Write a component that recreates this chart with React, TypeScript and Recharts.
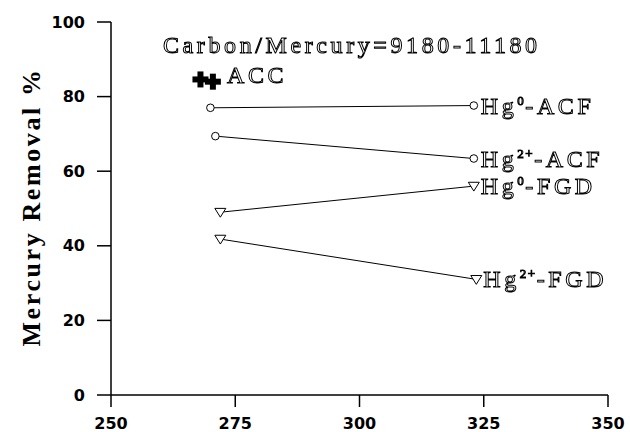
import React from "react";
import { ComposedChart, Line, Scatter, XAxis, YAxis } from "recharts";

const X_TICKS = [250, 275, 300, 325, 350];
const Y_TICKS = [0, 20, 40, 60, 80, 100];

const ACC_X = [268, 270.5];
const ACC_Y = [84.6, 84];

const HG0_ACF_X = [270, 323];
const HG0_ACF_Y = [77, 77.6];
const HG2_ACF_X = [271, 323];
const HG2_ACF_Y = [69.4, 63.4];
const HG0_FGD_X = [272, 323];
const HG0_FGD_Y = [49, 56];
const HG2_FGD_X = [272, 323.5];
const HG2_FGD_Y = [41.8, 31];

const TITLE = "Carbon/Mercury=9180-11180";

const zip = (xs: number[], ys: number[]) => xs.map((x, i) => ({ x, y: ys[i] }));

// hollow engraved-looking lettering; grayscale filter keeps the edges black
const outline = {
  fontFamily: "Liberation Serif",
  fontWeight: 400,
  fontSize: 24,
  letterSpacing: 3.6,
  fill: "#fff",
  stroke: "#000",
  strokeWidth: 1,
  style: { filter: "grayscale(1)" },
};

const tickFont = { fontFamily: "DejaVu Sans", fontWeight: 700, fontSize: 16, fill: "#000" };

function Circle(props: any) {
  const { cx, cy } = props;
  if (cx == null || cy == null) return null;
  return <circle cx={cx} cy={cy} r={3.8} fill="#fff" stroke="#000" strokeWidth={1} />;
}

function Triangle(props: any) {
  const { cx, cy } = props;
  if (cx == null || cy == null) return null;
  const s = 5.5;
  return (
    <path
      d={`M${cx - s},${cy - s * 0.7} L${cx + s},${cy - s * 0.7} L${cx},${cy + s * 0.9} Z`}
      fill="#fff"
      stroke="#000"
      strokeWidth={1}
    />
  );
}

function Plus(props: any) {
  const { cx, cy } = props;
  if (cx == null || cy == null) return null;
  return (
    <g stroke="#000" strokeWidth={6}>
      <line x1={cx - 8} y1={cy} x2={cx + 8} y2={cy} />
      <line x1={cx} y1={cy - 8} x2={cx} y2={cy + 8} />
    </g>
  );
}

function endLabel(name: string, sup: string, last: number) {
  return (props: any) => {
    const { x, y, index } = props;
    if (index !== last) return null;
    return (
      <text x={x + 7} y={y + 8} {...outline}>
        Hg
        <tspan dy={-9} fontSize={13} letterSpacing={1.5}>
          {sup}
        </tspan>
        <tspan dy={9}>{name}</tspan>
      </text>
    );
  };
}

export default function App() {
  return (
    <div style={{ position: "absolute", left: 0, top: 0, background: "#fff" }}>
      <ComposedChart width={630} height={432} margin={{ top: 22, right: 22, bottom: 0, left: 31 }}>
        <XAxis
          type="number"
          dataKey="x"
          domain={[250, 350]}
          ticks={X_TICKS}
          allowDataOverflow
          height={37}
          tickSize={12}
          tickMargin={11}
          stroke="#000"
          strokeWidth={1.5}
          tick={tickFont}
        />
        <YAxis
          type="number"
          dataKey="y"
          domain={[0, 100]}
          ticks={Y_TICKS}
          width={80}
          tickSize={14}
          tickMargin={12}
          stroke="#000"
          strokeWidth={1.5}
          tick={tickFont}
          label={() => (
            <text
              transform="translate(40,207) rotate(-90)"
              textAnchor="middle"
              fontFamily="Liberation Serif"
              fontWeight={700}
              fontSize={26}
              letterSpacing={2.6}
              fill="#000"
            >
              Mercury Removal %
            </text>
          )}
        />
        <Line data={zip(HG0_ACF_X, HG0_ACF_Y)} dataKey="y" stroke="#000" strokeWidth={1} dot={<Circle />} isAnimationActive={false} label={endLabel("-ACF", "0", 1)} />
        <Line data={zip(HG2_ACF_X, HG2_ACF_Y)} dataKey="y" stroke="#000" strokeWidth={1} dot={<Circle />} isAnimationActive={false} label={endLabel("-ACF", "2+", 1)} />
        <Line data={zip(HG0_FGD_X, HG0_FGD_Y)} dataKey="y" stroke="#000" strokeWidth={1} dot={<Triangle />} isAnimationActive={false} label={endLabel("-FGD", "0", 1)} />
        <Line data={zip(HG2_FGD_X, HG2_FGD_Y)} dataKey="y" stroke="#000" strokeWidth={1} dot={<Triangle />} isAnimationActive={false} label={endLabel("-FGD", "2+", 1)} />
        <Scatter data={zip(ACC_X, ACC_Y)} dataKey="y" shape={<Plus />} isAnimationActive={false} />
        <text x={163} y={53} {...outline}>
          {TITLE}
        </text>
        <text x={227} y={83} {...outline}>
          ACC
        </text>
      </ComposedChart>
    </div>
  );
}
